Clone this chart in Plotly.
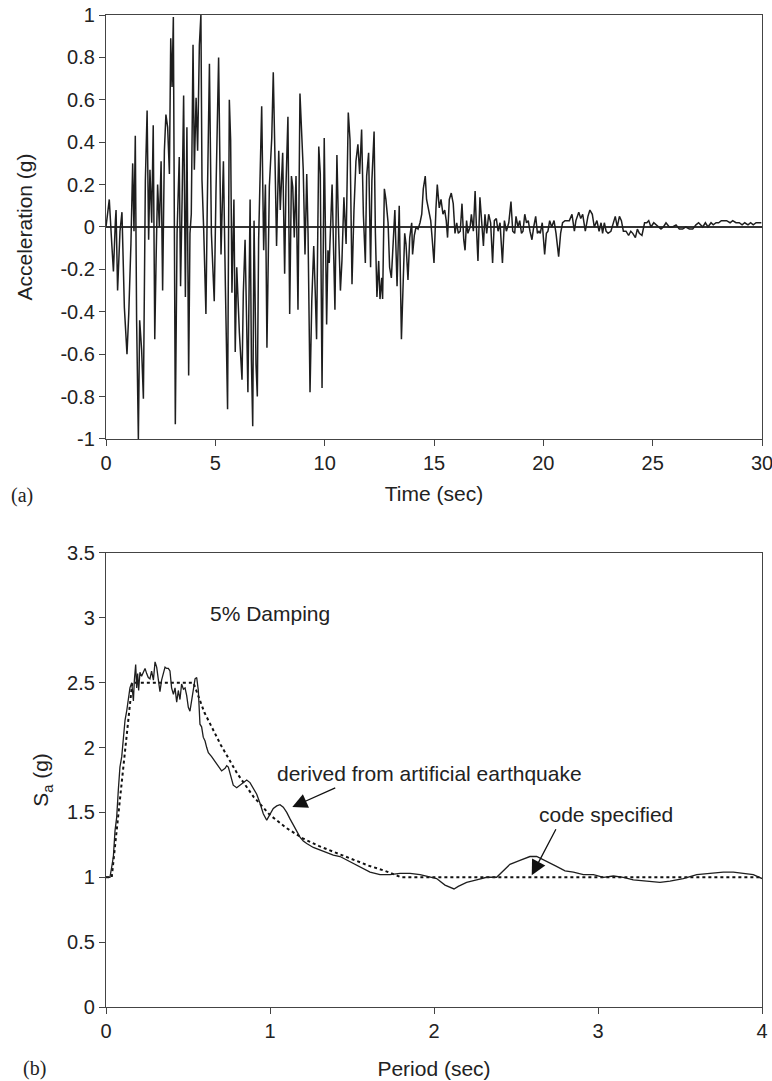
import plotly.graph_objects as go

# ---------------- (a) acceleration time history ----------------
time_s = [0, 0.15, 0.27, 0.34, 0.43, 0.46, 0.53, 0.64, 0.73, 0.84, 0.96, 1.04, 1.14, 1.22, 1.28, 1.34, 1.40, 1.48,
          1.54, 1.63, 1.71, 1.80, 1.88, 1.95, 2.01, 2.09, 2.16, 2.23, 2.29, 2.36, 2.44, 2.52, 2.59, 2.67, 2.74, 2.82,
          2.90, 2.96, 3.02, 3.08, 3.17, 3.25, 3.35, 3.41, 3.48, 3.55, 3.63, 3.70, 3.78, 3.84, 3.90, 3.98, 4.04, 4.12,
          4.19, 4.27, 4.34, 4.39, 4.47, 4.57, 4.63, 4.73, 4.82, 4.95, 5.03, 5.15, 5.26, 5.37, 5.46, 5.52, 5.56, 5.64,
          5.70, 5.76, 5.85, 5.91, 5.98, 6.10, 6.22, 6.28, 6.36, 6.43, 6.49, 6.59, 6.65, 6.71, 6.77, 6.86, 6.92, 6.98,
          7.12, 7.21, 7.29, 7.36, 7.47, 7.58, 7.65, 7.73, 7.80, 7.90, 7.97, 8.08, 8.17, 8.23, 8.32, 8.40, 8.48, 8.54,
          8.61, 8.69, 8.78, 8.87, 8.95, 9.02, 9.10, 9.18, 9.24, 9.33, 9.41, 9.50, 9.57, 9.63, 9.73, 9.80, 9.88, 9.98,
          10.09, 10.15,
          10.21, 10.34, 10.47, 10.56, 10.64, 10.72, 10.79, 10.88, 10.98, 11.08, 11.16, 11.25, 11.34, 11.43, 11.52,
          11.60, 11.69, 11.77, 11.86, 11.92, 12.01, 12.10, 12.16, 12.26, 12.32, 12.39, 12.47, 12.53, 12.61, 12.65,
          12.73, 12.80, 12.90, 12.97, 13.05, 13.14, 13.21, 13.31, 13.41, 13.51, 13.57, 13.66, 13.72, 13.81, 13.89,
          13.98, 14.02, 14.10, 14.18, 14.27, 14.36, 14.44, 14.51, 14.60, 14.66, 14.76, 14.85, 14.92, 15.00, 15.09,
          15.15, 15.24, 15.32, 15.41, 15.49, 15.56, 15.62, 15.70, 15.79, 15.88, 15.96, 16.04, 16.11, 16.20, 16.28,
          16.36, 16.42, 16.49, 16.55, 16.65, 16.71, 16.80, 16.88, 16.94, 17.01, 17.10, 17.18, 17.26, 17.33, 17.41,
          17.50, 17.59, 17.68, 17.76, 17.85, 17.93, 18.02, 18.13, 18.22, 18.31, 18.42, 18.52, 18.60, 18.69, 18.75,
          18.84, 18.92, 19.00, 19.07, 19.15, 19.23, 19.31, 19.39, 19.48, 19.56, 19.65, 19.73, 19.80, 19.86, 19.95,
          20.06, 20.14, 20.21, 20.29, 20.38, 20.49, 20.58, 20.70, 20.79, 20.88, 20.99, 21.08,
          21.19, 21.31, 21.42, 21.49, 21.62, 21.71, 21.80, 21.92, 22.04, 22.13, 22.24, 22.33, 22.45, 22.55, 22.64,
          22.71, 22.79, 22.87, 22.96, 23.09, 23.20, 23.29, 23.38, 23.48, 23.57, 23.66, 23.78, 23.90, 24.00, 24.09,
          24.21, 24.30, 24.39, 24.51, 24.63, 24.73, 24.82, 24.92, 25.05, 25.15, 25.27, 25.38, 25.49, 25.61, 25.76,
          25.91, 26.07, 26.22, 26.37, 26.52, 26.68, 26.83, 26.98, 27.10, 27.29, 27.41, 27.53, 27.67, 27.77, 27.90,
          28.02, 28.14, 28.26, 28.38, 28.54, 28.66, 28.81, 28.96, 29.09, 29.21, 29.36, 29.48, 29.60, 29.73, 29.85,
          29.97]
accel_g = [0, 0.13, -0.09, -0.21, 0.03, 0.08, -0.30, -0.02, 0.07, -0.38, -0.60, -0.41, -0.08, 0.30, -0.02, 0.43,
           -0.44, -1.00, -0.44, -0.58, -0.81, 0.22, 0.55, -0.06, 0.27, 0.02, 0.48, -0.53, -0.16, 0.20, 0.00, 0.31,
           -0.30, 0.36, 0.53, 0.47, 0.25, 0.89, 0.66, 0.99, -0.93, -0.03, 0.33, -0.28, 0.13, 0.62, -0.33, 0.47, -0.70,
           -0.03, 0.06, 0.86, 0.27, 0.61, 0.36, 0.86, 1.00, 0.22, -0.02, -0.41, 0.09, 0.77, -0.03, -0.35, 0.17, 0.80,
           -0.13, 0.31, -0.28, -0.61, -0.86, 0.60, 0.41, -0.31, 0.13, -0.59, -0.19, -0.50, -0.72, -0.31, -0.06, -0.44,
           -0.78, 0.13, -0.63, -0.94, 0.03, -0.65, -0.80, -0.06, 0.57, -0.11, 0.20, -0.57, 0.19, 0.42, 0.73, 0.31,
           -0.09, 0.36, 0.08, 0.35, -0.22, 0.19, 0.52, -0.41, 0.24, 0.19, -0.05, 0.24, -0.39, 0.63, 0.39, 0.27, -0.13,
           0.25, -0.03, -0.78, -0.35, -0.09, -0.31, -0.53, 0.38, 0.25, -0.76, 0.42, -0.46, -0.11,
           -0.17, 0.20, -0.39, 0.34, -0.03, -0.30, -0.16, 0.14, -0.08, 0.54, 0.41, -0.27, 0.08, 0.31, 0.39, 0.25,
           0.46, 0.06, -0.17, 0.24, 0.35, -0.19, 0.22, 0.45, -0.03, -0.33, -0.16, -0.34, -0.24, -0.34, 0.18, 0.13,
           0.02, -0.19, -0.24, -0.03, 0.08, -0.28, 0.10, -0.53, -0.33, -0.03, -0.08, -0.25, -0.05, 0.02, -0.13,
           -0.04, 0.00, -0.01, 0.02, 0.06, 0.18, 0.24, 0.13, 0.08, 0.03, -0.06, -0.17, 0.09, 0.20, 0.09, 0.13, 0.06,
           0.08, 0.03, -0.05, 0.13, 0.16, 0.11, -0.03, 0.02, -0.03, -0.02, 0.11, -0.06, -0.11, 0.03, -0.03, 0.00,
           0.06, -0.02, 0.17, 0.00, -0.16, 0.14, 0.02, -0.09, 0.06, -0.03, 0.06, 0.02, -0.17, 0.03, 0.04, -0.02,
           0.02, -0.17, 0.03, -0.02, 0.02, 0.12, -0.02, -0.03, 0.05, 0.00, 0.03, -0.03, -0.02, 0.06, 0.02, 0.03,
           -0.02, -0.06, 0.00, 0.05, -0.03, -0.02, -0.03, 0.02, -0.13, -0.03, -0.02, 0.03, 0.00, 0.03, -0.03, -0.14,
           -0.03, 0.02, 0.03, 0.03,
           0.03, 0.06, -0.02, 0.03, 0.07, 0.04, 0.06, -0.02, 0.05, 0.08, 0.06, 0.00, 0.03, -0.02, 0.02, -0.03, 0.02,
           -0.02, -0.03, -0.02, 0.02, 0.05, 0.00, 0.05, 0.03, -0.02, -0.02, -0.04, -0.02, -0.03, -0.05, -0.01, -0.03,
           -0.04, 0.02, 0.02, 0.03, 0.00, 0.02, 0.01, 0.00, -0.01, 0.00, 0.02, 0.00, 0.00, 0.01, -0.01, -0.01, 0.00,
           -0.01, -0.01, 0.01, 0.02, 0.00, 0.02, 0.00, 0.02, 0.01, 0.02, 0.02, 0.03, 0.03, 0.03, 0.02, 0.03, 0.02,
           0.02, 0.01, 0.02, 0.01, 0.02, 0.01, 0.02, 0.02, 0.02]

# ---------------- (b) response spectrum ----------------
period_derived = [0.0, 0.024, 0.035, 0.045, 0.055, 0.065, 0.075, 0.085, 0.096, 0.106, 0.116, 0.126, 0.136, 0.146,
                  0.157, 0.167, 0.173, 0.181, 0.187, 0.193, 0.199, 0.207, 0.217, 0.228, 0.238, 0.248, 0.258, 0.268,
                  0.278, 0.289, 0.299, 0.309, 0.319, 0.329, 0.339, 0.350, 0.360, 0.370, 0.380, 0.390, 0.400, 0.411,
                  0.421, 0.431, 0.441, 0.451, 0.461, 0.472, 0.482, 0.492, 0.502, 0.512, 0.522, 0.533, 0.543, 0.553,
                  0.563, 0.573, 0.583, 0.593, 0.604, 0.614, 0.624, 0.644, 0.665, 0.685, 0.705, 0.726, 0.736, 0.746,
                  0.756, 0.776, 0.797, 0.817, 0.837, 0.858, 0.878, 0.898, 0.919, 0.939, 0.959, 0.980, 1.000, 1.020,
                  1.041, 1.061, 1.081, 1.102, 1.122, 1.142, 1.163, 1.183, 1.203, 1.224, 1.264, 1.305, 1.346, 1.386,
                  1.427, 1.488, 1.549, 1.610, 1.671, 1.732, 1.793, 1.854, 1.915, 1.976, 2.016, 2.067, 2.122, 2.148,
                  2.199, 2.260, 2.321, 2.382, 2.423, 2.463, 2.524, 2.585, 2.626, 2.677, 2.738, 2.799, 2.850, 2.911,
                  2.972, 3.033, 3.094, 3.154, 3.215, 3.297, 3.378, 3.439, 3.520, 3.602, 3.683, 3.764, 3.825, 3.886,
                  3.947, 4.0]
sa_derived = [1.00, 1.00, 1.08, 1.16, 1.36, 1.46, 1.67, 1.85, 1.93, 2.08, 2.21, 2.28, 2.39, 2.46, 2.50, 2.36, 2.52,
              2.64, 2.46, 2.57, 2.44, 2.58, 2.55, 2.59, 2.61, 2.57, 2.54, 2.53, 2.59, 2.52, 2.66, 2.62, 2.52, 2.43,
              2.52, 2.58, 2.62, 2.61, 2.61, 2.59, 2.46, 2.41, 2.46, 2.35, 2.44, 2.37, 2.49, 2.45, 2.46, 2.40, 2.31,
              2.28, 2.36, 2.46, 2.53, 2.54, 2.44, 2.18, 2.16, 2.08, 2.05, 2.00, 1.96, 1.93, 1.89, 1.85, 1.82, 1.84,
              1.86, 1.85, 1.80, 1.71, 1.69, 1.71, 1.73, 1.75, 1.73, 1.69, 1.64, 1.57, 1.49, 1.44, 1.48, 1.53, 1.55,
              1.56, 1.54, 1.50, 1.45, 1.40, 1.35, 1.31, 1.28, 1.26, 1.23, 1.21, 1.19, 1.17,
              1.16, 1.12, 1.08, 1.04, 1.02, 1.02, 1.03, 1.03, 1.02, 1.00, 0.99, 0.94, 0.91, 0.93, 0.96, 0.98, 1.00,
              1.00, 1.05, 1.10, 1.13, 1.16, 1.16, 1.13, 1.09, 1.05, 1.04, 1.02, 1.02, 1.00, 1.01, 1.00, 0.98, 0.97,
              0.96, 0.97, 0.99, 1.02, 1.03, 1.04, 1.04, 1.03, 1.02, 0.99]

period_code = [0.0, 0.035, 0.16, 0.533, 0.6, 0.7, 0.8, 0.9, 1.0, 1.1, 1.2, 1.3, 1.4, 1.5, 1.6, 1.7, 1.8, 4.0]
sa_code = [1.0, 1.0, 2.5, 2.5, 2.27, 2.02, 1.80, 1.62, 1.48, 1.38, 1.30, 1.24, 1.19, 1.14, 1.09, 1.05, 1.0, 1.0]

acc_ticks = [1, 0.8, 0.6, 0.4, 0.2, 0, -0.2, -0.4, -0.6, -0.8, -1]
acc_labels = ["1", "0.8", "0.6", "0.4", "0.2", "0", "-0.2", "-0.4", "-0.6", "-0.8", "-1"]
time_ticks = [0, 5, 10, 15, 20, 25, 30]
sa_ticks = [0, 0.5, 1, 1.5, 2, 2.5, 3, 3.5]
sa_labels = ["0", "0.5", "1", "1.5", "2", "2.5", "3", "3.5"]
period_ticks = [0, 1, 2, 3, 4]

FONT = "Liberation Sans, Arial, sans-serif"
AX = "#444444"
LINE = "#1e1e1e"

fig = go.Figure()
fig.add_trace(go.Scatter(x=time_s, y=accel_g, mode="lines", line=dict(color=LINE, width=1.5),
                         xaxis="x", yaxis="y", showlegend=False))
fig.add_trace(go.Scatter(x=period_code, y=sa_code, mode="lines", line=dict(color="#111111", width=2, dash="dot"),
                         xaxis="x2", yaxis="y2", showlegend=False))
fig.add_trace(go.Scatter(x=period_derived, y=sa_derived, mode="lines", line=dict(color=LINE, width=1.3),
                         xaxis="x2", yaxis="y2", showlegend=False))

common = dict(showline=True, linecolor=AX, linewidth=1.3, mirror=True, ticks="outside", ticklen=6,
              tickcolor=AX, tickwidth=1.3, showgrid=False, automargin=False, ticklabeloverflow="allow",
              tickfont=dict(family=FONT, size=20, color="#222"))

fig.update_layout(
    width=772, height=1081,
    margin=dict(l=106, r=10, t=15, b=74),
    paper_bgcolor="white", plot_bgcolor="white",
    font=dict(family=FONT, size=20, color="#222"),
    xaxis=dict(domain=[0, 1], anchor="y", range=[0, 30], tickvals=time_ticks, zeroline=False,
               title=dict(text="Time (sec)", font=dict(size=21), standoff=13), **common),
    yaxis=dict(domain=[0.5726, 1.0], anchor="x", range=[-1, 1], tickvals=acc_ticks, ticktext=acc_labels,
               title=dict(text="Acceleration (g)", font=dict(size=21), standoff=22), **common,
               zeroline=True, zerolinecolor="#333333", zerolinewidth=1.5),
    xaxis2=dict(domain=[0, 1], anchor="y2", range=[0, 4], tickvals=period_ticks, zeroline=False,
                title=dict(text="Period (sec)", font=dict(size=21), standoff=20), **common),
    yaxis2=dict(domain=[0, 0.4577], anchor="x2", range=[0, 3.5], tickvals=sa_ticks, ticktext=sa_labels,
                zeroline=False,
                title=dict(text="S<sub>a</sub> (g)", font=dict(size=21), standoff=12), **common),
)

ann_font = dict(family=FONT, size=21, color="#222")
fig.add_annotation(x=0.62, y=3.03, xref="x2", yref="y2", text="5% Damping", showarrow=False,
                   xanchor="left", yanchor="middle", font=ann_font)
fig.add_annotation(x=1.03, y=1.80, xref="x2", yref="y2", text="derived from artificial earthquake",
                   showarrow=False, xanchor="left", yanchor="middle", font=ann_font)
fig.add_annotation(x=2.628, y=1.485, xref="x2", yref="y2", text="code specified", showarrow=False,
                   xanchor="left", yanchor="middle", font=ann_font)
# arrows
fig.add_annotation(x=1.136, y=1.541, xref="x2", yref="y2", ax=1.407, ay=1.695, axref="x2", ayref="y2",
                   text="", showarrow=True, arrowhead=2, arrowsize=2.3, arrowwidth=1.3, arrowcolor="#111")
fig.add_annotation(x=2.596, y=1.015, xref="x2", yref="y2", ax=2.748, ay=1.382, axref="x2", ayref="y2",
                   text="", showarrow=True, arrowhead=2, arrowsize=2.3, arrowwidth=1.3, arrowcolor="#111")

# panel labels (paper coords relative to the plot area: x 106..762 px, y 15..1007 px)
serif = dict(family="Liberation Serif, Times New Roman, serif", size=20, color="#222")
fig.add_annotation(x=(22 - 106) / 656, y=(1007 - 495) / 992, xref="paper", yref="paper", text="(a)",
                   showarrow=False, xanchor="center", yanchor="middle", font=serif)
fig.add_annotation(x=(34 - 106) / 656, y=(1007 - 1068) / 992, xref="paper", yref="paper", text="(b)",
                   showarrow=False, xanchor="center", yanchor="middle", font=serif)

fig.write_html("out.html", config={"displayModeBar": False},
               post_script="document.body.style.margin='0px';document.body.style.padding='0px';"
                           "document.documentElement.style.overflow='hidden';")
